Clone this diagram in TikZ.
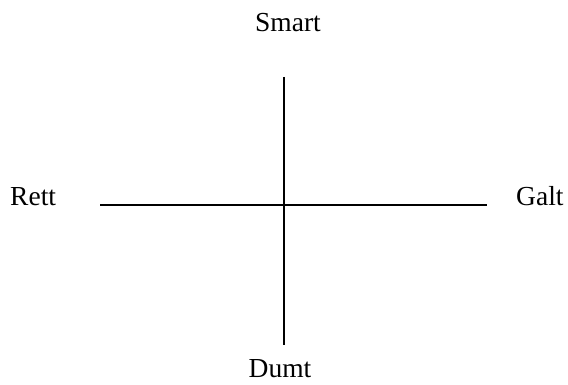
\documentclass[tikz,border=0pt]{standalone}
\usepackage{fontspec}
\setmainfont{Liberation Serif}
\begin{document}
\begin{tikzpicture}[x=1pt,y=1pt,
  lbl/.style={inner sep=0pt,font=\fontsize{27.5}{31}\selectfont},
  axis/.style={line width=1.4pt,black}]
\useasboundingbox (0,0) rectangle (568,385);
\node[lbl,anchor=base] (smart) at (288,353) {Smart};
\node[lbl,anchor=base west] (rett) at (10,179) {Rett};
\node[lbl,anchor=base west] (galt) at (516,179) {Galt};
\node[lbl,anchor=base] (dumt) at (280,7) {Dumt};
\coordinate (top) at (284,308);
\coordinate (bot) at (284,40);
\coordinate (left) at (100,180);
\coordinate (right) at (487,180);
\draw[axis] (top) -- (bot);
\draw[axis] (left) -- (right);
\end{tikzpicture}
\end{document}
